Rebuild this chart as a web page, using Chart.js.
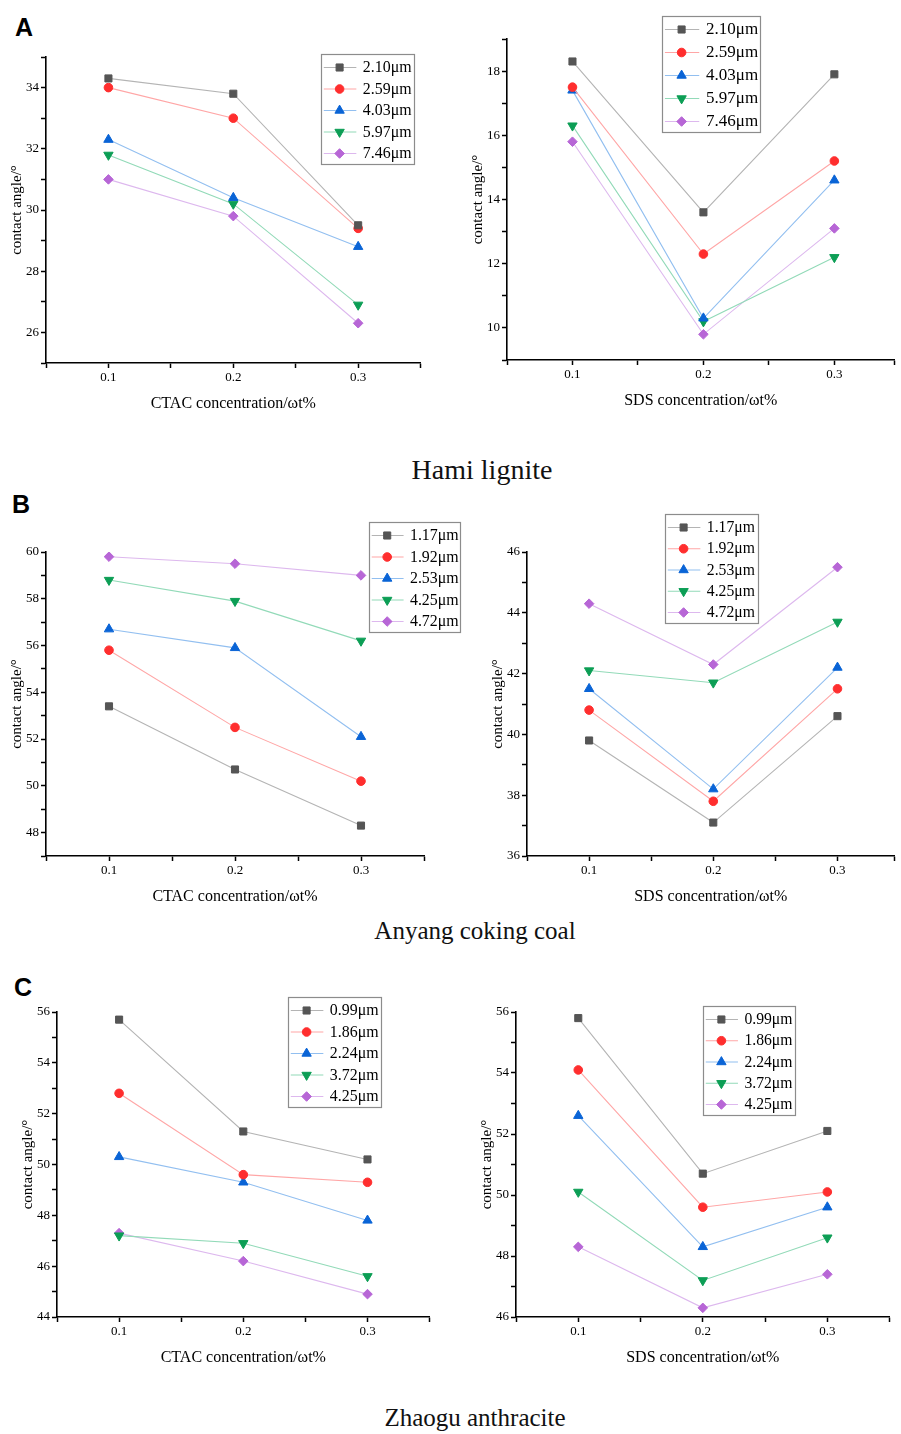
<!DOCTYPE html>
<html>
<head>
<meta charset="utf-8">
<title>contact angle</title>
<script src="https://cdn.jsdelivr.net/npm/chart.js@4.4.1/dist/chart.umd.min.js"></script>
<style>
    body { margin: 0; background: #fff; width: 901px; height: 1434px; position: relative; overflow: hidden; }
    canvas { position: absolute; }
    .letter { position: absolute; font: bold 25px "Liberation Sans", Arial, sans-serif; line-height: 25px; color: #000; }
    .caption { position: absolute; width: 400px; text-align: center; font-family: "Liberation Serif", "Times New Roman", serif; color: #111; }
</style>
</head>
<body>
<div class="letter" style="left:15px;top:15px">A</div>
<div class="letter" style="left:12px;top:492px">B</div>
<div class="letter" style="left:14px;top:975px">C</div>
<div class="caption" style="left:282px;top:456px;font-size:28px;line-height:28px">Hami lignite</div>
<div class="caption" style="left:275px;top:918px;font-size:25px;line-height:25px">Anyang coking coal</div>
<div class="caption" style="left:275px;top:1405px;font-size:25px;line-height:25px">Zhaogu anthracite</div>

<script>
// surfactant concentration, wt%
var concentrations = [0.1, 0.2, 0.3];

// particle sizes (legend labels)
var hamiSizes = ['2.10μm', '2.59μm', '4.03μm', '5.97μm', '7.46μm'];
var anyangSizes = ['1.17μm', '1.92μm', '2.53μm', '4.25μm', '4.72μm'];
var zhaoguSizes = ['0.99μm', '1.86μm', '2.24μm', '3.72μm', '4.25μm'];

// contact angles, one row per particle size
var hamiCTAC = [
    [34.3, 33.8, 29.5],
    [34.0, 33.0, 29.4],
    [32.3, 30.4, 28.8],
    [31.8, 30.2, 26.9],
    [31.0, 29.8, 26.3]
];
var hamiSDS = [
    [18.3, 13.6, 17.9],
    [17.5, 12.3, 15.2],
    [17.4, 10.3, 14.6],
    [16.3, 10.2, 12.2],
    [15.8, 9.8, 13.1]
];
var anyangCTAC = [
    [53.4, 50.7, 48.3],
    [55.8, 52.5, 50.2],
    [56.7, 55.9, 52.1],
    [58.8, 57.9, 56.2],
    [59.8, 59.5, 59.0]
];
var anyangSDS = [
    [39.8, 37.1, 40.6],
    [40.8, 37.8, 41.5],
    [41.5, 38.2, 42.2],
    [42.1, 41.7, 43.7],
    [44.3, 42.3, 45.5]
];
var zhaoguCTAC = [
    [55.7, 51.3, 50.2],
    [52.8, 49.6, 49.3],
    [50.3, 49.3, 47.8],
    [47.2, 46.9, 45.6],
    [47.3, 46.2, 44.9]
];
var zhaoguSDS = [
    [55.8, 50.7, 52.1],
    [54.1, 49.6, 50.1],
    [52.6, 48.3, 49.6],
    [50.1, 47.2, 48.6],
    [48.3, 46.3, 47.4]
];

var SERIF = '"Liberation Serif", "Times New Roman", serif';
var markerColors = ['#555555', '#ff2e2e', '#0a64d6', '#0c9e55', '#b766d6'];
var lineColors = ['#b4b4b4', '#ffa6a6', '#92bff0', '#92dab8', '#ddb8ee'];
var pointStyles = ['rect', 'circle', 'triangle', 'triangle', 'rectRot'];
var pointRotations = [0, 0, 0, 180, 0];
var pointRadii = [5, 4.3, 5.4, 5.4, 4.8];

var Y_W = 38;   // width kept for y ticks + title
var X_H = 50;   // height kept for x ticks + title

// legend drawn inside a framed box, like the original figure
var boxLegend = {
    id: 'boxLegend',
    afterDraw: function (chart, args, opts) {
        if (!opts || opts.w === undefined) return;
        var ctx = chart.ctx;
        var x = opts.x, y = opts.y, w = opts.w, h = opts.h;
        var sets = chart.data.datasets;
        var step = (h - 24) / (sets.length - 1);
        ctx.save();
        ctx.fillStyle = '#fff';
        ctx.fillRect(x, y, w, h);
        ctx.strokeStyle = '#8c8c8c';
        ctx.lineWidth = 1.2;
        ctx.strokeRect(x + 0.5, y + 0.5, w, h);
        ctx.font = (step * 0.74).toFixed(1) + 'px ' + SERIF;
        ctx.textBaseline = 'middle';
        sets.forEach(function (ds, i) {
            var ry = y + 13.5 + i * step;
            ctx.strokeStyle = ds.borderColor;
            ctx.lineWidth = 1.2;
            ctx.beginPath();
            ctx.moveTo(x + 0.03 * w, ry);
            ctx.lineTo(x + 0.38 * w, ry);
            ctx.stroke();
            ctx.fillStyle = ds.pointBackgroundColor;
            ctx.strokeStyle = ds.pointBorderColor;
            ctx.lineWidth = 1;
            Chart.helpers.drawPoint(ctx, {
                pointStyle: ds.pointStyle,
                rotation: ds.pointRotation,
                radius: ds.pointRadius,
                borderWidth: 1
            }, x + 0.2 * w, ry);
            ctx.fillStyle = '#000';
            ctx.fillText(ds.label, x + 0.45 * w, ry + 0.5);
        });
        ctx.restore();
    }
};

function makeChart(c) {
    var padR = c.padRight || 0;
    var padT = Math.max(12, c.axT - c.legend[1] + 3);
    var left = c.axL - Y_W;
    var top = c.axT - padT;
    var canvas = document.createElement('canvas');
    canvas.width = c.axR - c.axL + Y_W + padR;
    canvas.height = c.axB - c.axT + padT + X_H;
    canvas.style.left = left + 'px';
    canvas.style.top = top + 'px';
    document.body.appendChild(canvas);

    var datasets = c.series.map(function (vals, i) {
        return {
            label: c.sizes[i],
            data: vals.map(function (v, j) { return { x: concentrations[j], y: v }; }),
            borderColor: lineColors[i],
            borderWidth: 1.1,
            backgroundColor: markerColors[i],
            pointBackgroundColor: markerColors[i],
            pointBorderColor: markerColors[i],
            pointBorderWidth: 1,
            pointStyle: pointStyles[i],
            pointRotation: pointRotations[i],
            pointRadius: pointRadii[i],
            tension: 0
        };
    });

    new Chart(canvas.getContext('2d'), {
        type: 'line',
        data: { datasets: datasets },
        options: {
            responsive: false,
            animation: false,
            devicePixelRatio: 1,
            layout: { padding: { top: padT, right: padR, left: 0, bottom: 0 } },
            plugins: {
                legend: { display: false },
                tooltip: { enabled: false },
                boxLegend: { x: c.legend[0] - left, y: c.legend[1] - top, w: c.legend[2], h: c.legend[3] }
            },
            scales: {
                x: {
                    type: 'linear',
                    min: 0.05,
                    max: c.xMax || 0.35,
                    afterFit: function (s) { s.height = X_H; },
                    ticks: {
                        stepSize: 0.05,
                        autoSkip: false,
                        maxRotation: 0,
                        padding: 2,
                        color: '#000',
                        font: { family: SERIF, size: 13 },
                        callback: function (v) {
                            var t = v * 10;
                            return Math.abs(t - Math.round(t)) < 1e-6 ? v.toFixed(1) : '';
                        }
                    },
                    grid: { drawOnChartArea: false, tickLength: 5, tickColor: '#000', tickWidth: 1.5 },
                    border: { color: '#000', width: 1.6 },
                    title: { display: true, text: c.xTitle, color: '#000', font: { family: SERIF, size: 16 }, padding: 0 }
                },
                y: {
                    min: c.yMin,
                    max: c.yMax,
                    afterFit: function (s) { s.width = Y_W; },
                    ticks: {
                        stepSize: 1,
                        autoSkip: false,
                        padding: 2,
                        color: '#000',
                        font: { family: SERIF, size: 13 },
                        callback: function (v) { return v % 2 === 0 ? v : ''; }
                    },
                    grid: { drawOnChartArea: false, tickLength: 5, tickColor: '#000', tickWidth: 1.5 },
                    border: { color: '#000', width: 1.6 },
                    title: { display: true, text: 'contact angle/°', color: '#000', font: { family: SERIF, size: 15 }, padding: 0 }
                }
            }
        },
        plugins: [boxLegend]
    });
}

makeChart({ series: hamiCTAC, sizes: hamiSizes, xTitle: 'CTAC concentration/ωt%',
    yMin: 25, yMax: 35, axL: 46, axT: 57, axR: 427, axB: 363, legend: [321, 54, 93, 110] });
makeChart({ series: hamiSDS, sizes: hamiSizes, xTitle: 'SDS concentration/ωt%',
    yMin: 9, yMax: 19, xMax: 0.346, axL: 507, axT: 39, axR: 901, axB: 360, legend: [662, 16, 98, 116] });
makeChart({ series: anyangCTAC, sizes: anyangSizes, xTitle: 'CTAC concentration/ωt%',
    yMin: 47, yMax: 60, axL: 46, axT: 552, axR: 424, axB: 856, padRight: 42, legend: [369, 522, 91, 110] });
makeChart({ series: anyangSDS, sizes: anyangSizes, xTitle: 'SDS concentration/ωt%',
    yMin: 36, yMax: 46, xMax: 0.346, axL: 527, axT: 552, axR: 901, axB: 856, legend: [665, 514, 93, 109] });
makeChart({ series: zhaoguCTAC, sizes: zhaoguSizes, xTitle: 'CTAC concentration/ωt%',
    yMin: 44, yMax: 56, axL: 57, axT: 1012, axR: 436, axB: 1317, legend: [288, 997, 93, 110] });
makeChart({ series: zhaoguSDS, sizes: zhaoguSizes, xTitle: 'SDS concentration/ωt%',
    yMin: 46, yMax: 56, axL: 516, axT: 1012, axR: 896, axB: 1317, legend: [703, 1006, 92, 109] });
</script>
</body>
</html>
